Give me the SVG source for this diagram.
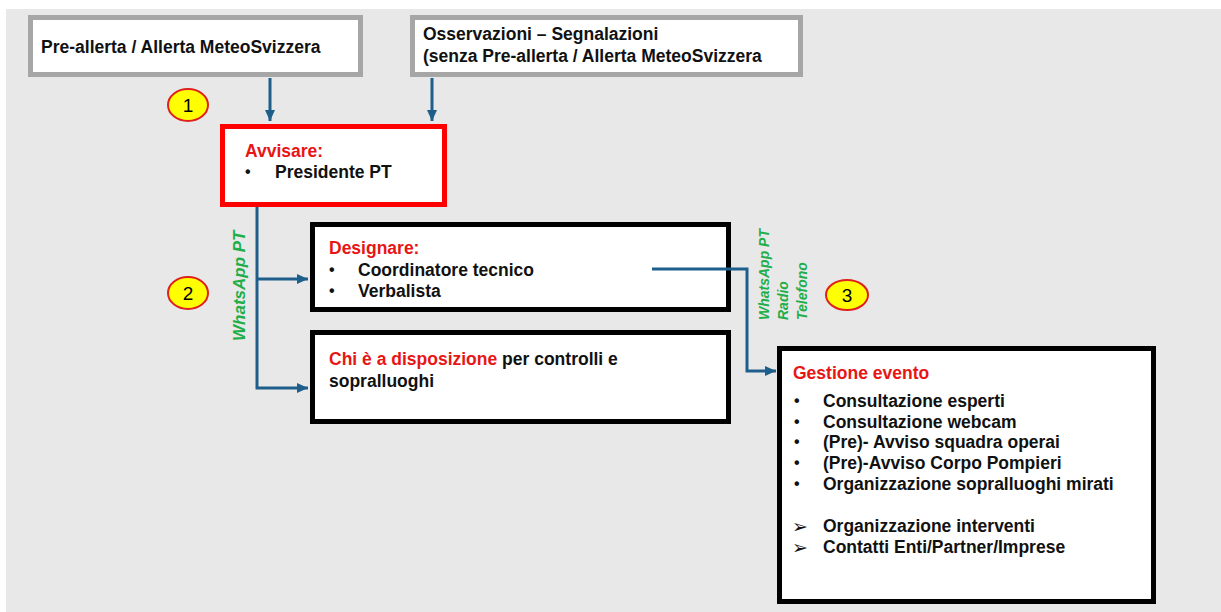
<svg xmlns="http://www.w3.org/2000/svg" width="1221" height="612" viewBox="0 0 1221 612">
<style>
.t{font-family:"Liberation Sans",Arial,sans-serif;font-weight:bold;font-size:17.5px;fill:#111}
.b{font-family:"Liberation Sans",Arial,sans-serif;font-weight:bold;font-size:16px;fill:#111}
.ar{font-family:"DejaVu Sans",sans-serif;font-size:19px;fill:#111}
.r{fill:#e81515}
.g{font-family:"Liberation Sans",Arial,sans-serif;font-weight:bold;font-style:italic;fill:#1fae4a}
.gray{fill:#fff;stroke:#a6a6a6;stroke-width:5}
.blk{fill:#fff;stroke:#000;stroke-width:5}
.red{fill:#fff;stroke:#ff0000;stroke-width:5}
.con{fill:none;stroke:#1d5f8a;stroke-width:3}
.badge{fill:#ffff00;stroke:#e0201c;stroke-width:2}
.num{font-family:"Liberation Sans",Arial,sans-serif;font-size:19px;fill:#000;text-anchor:middle}
</style>
<defs>
<marker id="ah" markerUnits="userSpaceOnUse" markerWidth="12" markerHeight="12" viewBox="0 0 12 12" refX="11" refY="6" orient="auto">
<path d="M0,1 L11,6 L0,11 Z" fill="#1d5f8a"/>
</marker>
</defs>
<rect x="0" y="0" width="1221" height="612" fill="#fff"/>
<rect x="6" y="9" width="1215" height="603" fill="#e8e8e8"/>

<g id="preallerta">
<rect class="gray" x="30.5" y="17.5" width="330" height="57"/>
<text class="t" x="41" y="53">Pre-allerta / Allerta MeteoSvizzera</text>
</g>

<g id="osservazioni">
<rect class="gray" x="412.5" y="17.5" width="388" height="57"/>
<text class="t" x="423" y="40">Osservazioni – Segnalazioni</text>
<text class="t" x="423" y="62">(senza Pre-allerta / Allerta MeteoSvizzera</text>
</g>

<g id="avvisare">
<rect class="red" x="222.5" y="126.5" width="222" height="78"/>
<text class="t r" x="245" y="157">Avvisare:</text>
<text class="b" x="245" y="177">•</text>
<text class="t" x="275" y="178">Presidente PT</text>
</g>

<g id="designare">
<rect class="blk" x="312.5" y="224.5" width="416" height="85"/>
<text class="t r" x="329" y="254">Designare:</text>
<text class="b" x="329" y="275">•</text>
<text class="t" x="358" y="276">Coordinatore tecnico</text>
<text class="b" x="329" y="296">•</text>
<text class="t" x="358" y="297">Verbalista</text>
</g>

<g id="disposizione">
<rect class="blk" x="312.5" y="332.5" width="416" height="89"/>
<text class="t" x="329" y="365"><tspan class="r">Chi è a disposizione</tspan> per controlli e</text>
<text class="t" x="329" y="387">sopralluoghi</text>
</g>

<g id="gestione">
<rect class="blk" x="779.5" y="348.5" width="374" height="253"/>
<text class="t r" x="793" y="379">Gestione evento</text>
<text class="b" x="794" y="406">•</text><text class="t" x="823" y="407">Consultazione esperti</text>
<text class="b" x="794" y="427">•</text><text class="t" x="823" y="428">Consultazione webcam</text>
<text class="b" x="794" y="447">•</text><text class="t" x="823" y="448">(Pre)- Avviso squadra operai</text>
<text class="b" x="794" y="468">•</text><text class="t" x="823" y="469">(Pre)-Avviso Corpo Pompieri</text>
<text class="b" x="794" y="489">•</text><text class="t" x="823" y="490">Organizzazione sopralluoghi mirati</text>
<text class="ar" x="792" y="533">➢</text><text class="t" x="823" y="532">Organizzazione interventi</text>
<text class="ar" x="792" y="554">➢</text><text class="t" x="823" y="553">Contatti Enti/Partner/Imprese</text>
</g>

<g id="connectors">
<path class="con" d="M270,78 V121" marker-end="url(#ah)"/>
<path class="con" d="M432,78 V121" marker-end="url(#ah)"/>
<path class="con" d="M257,207 V388 H308" marker-end="url(#ah)"/>
<path class="con" d="M257,279 H308" marker-end="url(#ah)"/>
<path class="con" d="M652,269 H747 V371 H776" marker-end="url(#ah)"/>
</g>

<g id="label-whatsapp-left">
<text class="g" font-size="17" transform="translate(245,341) rotate(-90)">WhatsApp PT</text>
</g>

<g id="label-channels">
<text class="g" font-size="14" transform="translate(769,320) rotate(-90)">WhatsApp PT</text>
<text class="g" font-size="14" transform="translate(788,320) rotate(-90)">Radio</text>
<text class="g" font-size="14" transform="translate(807,320) rotate(-90)">Telefono</text>
</g>

<g id="badge1">
<ellipse class="badge" cx="188" cy="105" rx="20" ry="16"/>
<text class="num" x="188" y="112">1</text>
</g>
<g id="badge2">
<ellipse class="badge" cx="188" cy="293" rx="20" ry="16"/>
<text class="num" x="188" y="300">2</text>
</g>
<g id="badge3">
<ellipse class="badge" cx="847" cy="295" rx="21" ry="15"/>
<text class="num" x="847" y="302">3</text>
</g>
</svg>
